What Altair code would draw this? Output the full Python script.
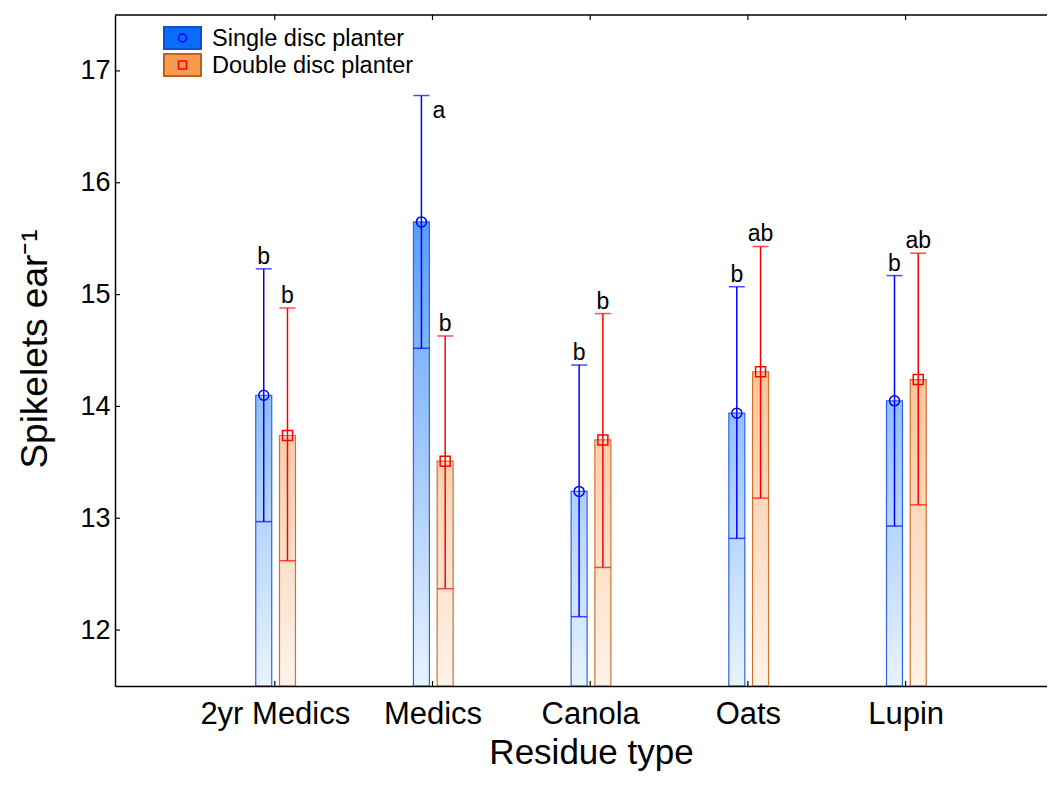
import json
import altair as alt
import pandas as pd

# ---------------- data ----------------
categories = ["2yr Medics", "Medics", "Canola", "Oats", "Lupin"]
series_names = ["Single disc planter", "Double disc planter"]
single_mean = [14.10, 15.65, 13.24, 13.94, 14.05]
single_low = [12.97, 14.52, 12.12, 12.82, 12.93]
single_high = [15.23, 16.78, 14.37, 15.07, 15.17]
double_mean = [13.74, 13.51, 13.70, 14.31, 14.24]
double_low = [12.62, 12.37, 12.56, 13.18, 13.12]
double_high = [14.88, 14.63, 14.83, 15.43, 15.37]
single_letters = ["b", "a", "b", "b", "b"]
double_letters = ["b", "b", "b", "ab", "ab"]
y_ticks = [12, 13, 14, 15, 16, 17]
y_min, y_max = 11.5, 17.5

rows = []
for i, c in enumerate(categories):
    rows.append(dict(cat=c, idx=i + 1, series=series_names[0], mean=single_mean[i],
                     low=single_low[i], high=single_high[i], letter=single_letters[i]))
    rows.append(dict(cat=c, idx=i + 1, series=series_names[1], mean=double_mean[i],
                     low=double_low[i], high=double_high[i], letter=double_letters[i]))
df = pd.DataFrame(rows)

# ---------------- geometry / style ----------------
W, H = 932, 671
STEP = 159.4
x0 = 1 - 156.5 / STEP
xscale = alt.Scale(domain=[x0, x0 + W / STEP], nice=False, zero=False)
yscale = alt.Scale(domain=[y_min, y_max], nice=False, zero=False)
FONT = "Liberation Sans"

label_js = json.dumps(categories)
xaxis = alt.Axis(values=[1, 2, 3, 4, 5], labelExpr=f"{label_js}[datum.value - 1]",
                 ticks=False, tickSize=0, grid=False, domain=True, domainColor="black",
                 domainWidth=1.5, labelFontSize=31, labelColor="black",
                 labelBaseline="alphabetic", labelPadding=37, labelFlush=False,
                 labelOverlap=False, title="Residue type", titleFontSize=35,
                 titleFontWeight="normal", titleColor="black", titleX=476, titleY=77,
                 titleBaseline="alphabetic", titleAlign="center", zindex=1)
yaxis = alt.Axis(values=y_ticks, ticks=False, tickSize=0, grid=False, domain=True,
                 domainColor="black", domainWidth=1.5, labelFontSize=27,
                 labelColor="black", labelPadding=5, labelBaseline="middle",
                 title="Spikelets ear⁻¹", titleFontSize=37, titleFontWeight="normal",
                 titleColor="black", titleX=-69, titleY=H / 2 - 2, titleAngle=270,
                 titleAlign="center", titleBaseline="alphabetic", zindex=1)

S = series_names[0]
is_single = f"datum.series == '{S}'"

base = alt.Chart(df).transform_calculate(
    xpos=f"datum.idx + ({is_single} ? -0.0703 : 0.0803)")
X = alt.X("xpos:Q", scale=xscale, axis=xaxis)

blue_grad = {"gradient": "linear", "x1": 0, "y1": 1, "x2": 0, "y2": 0,
             "stops": [{"offset": 0, "color": "#e8f3ff"},
                       {"offset": 1, "color": "#1a78ff"}]}
orange_grad = {"gradient": "linear", "x1": 0, "y1": 1, "x2": 0, "y2": 0,
               "stops": [{"offset": 0, "color": "#fef3ea"},
                         {"offset": 1, "color": "#f48e3c"}]}

grad_s = base.transform_filter(is_single).mark_bar(size=16, fill=blue_grad).encode(
    x=X, y=alt.YDatum(y_max, scale=yscale, axis=yaxis), y2=alt.datum(y_min))
grad_d = base.transform_filter(f"!({is_single})").mark_bar(size=16, fill=orange_grad).encode(
    x=X, y=alt.YDatum(y_max, scale=yscale, axis=yaxis), y2=alt.datum(y_min))

cover = base.mark_bar(size=18, fill="white").encode(
    x=X, y=alt.Y("mean:Q", scale=yscale, axis=yaxis), y2=alt.datum(y_max))

outline = base.mark_bar(size=16, fillOpacity=0, strokeWidth=1.2).encode(
    x=X, y=alt.Y("mean:Q", scale=yscale, axis=yaxis), y2=alt.datum(y_min),
    stroke=alt.condition(is_single, alt.value("#2f64e6"), alt.value("#d0702e")))

err_color = alt.condition(is_single, alt.value("#0000ff"), alt.value("#ff0000"))
rules = base.mark_rule(strokeWidth=1.5).encode(
    x=X, y=alt.Y("low:Q", scale=yscale, axis=yaxis), y2="high:Q", color=err_color)
caps = base.transform_fold(["low", "high"], as_=["end", "val"]).mark_tick(
    orient="horizontal", size=16, thickness=1.5).encode(
    x=X, y=alt.Y("val:Q", scale=yscale, axis=yaxis), color=err_color)
points = base.mark_point(filled=False, size=100, strokeWidth=1.5, opacity=1).encode(
    x=X, y=alt.Y("mean:Q", scale=yscale, axis=yaxis), color=err_color,
    shape=alt.condition(is_single, alt.value("circle"), alt.value("square")))

exception = f"datum.cat == 'Medics' && {is_single}"
letters = base.transform_filter(f"!({exception})").mark_text(
    fontSize=23, baseline="alphabetic", align="center", dy=-5, color="black").encode(
    x=X, y=alt.Y("high:Q", scale=yscale, axis=yaxis), text="letter:N")
letter_a = base.transform_filter(exception).mark_text(
    fontSize=23, baseline="alphabetic", align="left", dx=11, dy=22, color="black").encode(
    x=X, y=alt.Y("high:Q", scale=yscale, axis=yaxis), text="letter:N")

# inward tick marks
ytick_layer = alt.Chart(pd.DataFrame({"t": y_ticks})).mark_rule(
    color="black", strokeWidth=1.2).encode(
    y=alt.Y("t:Q", scale=yscale, axis=yaxis), x=alt.value(0), x2=alt.value(5))
cat_df = pd.DataFrame({"idx": list(range(1, len(categories) + 1))})
xtick_bottom = alt.Chart(cat_df).mark_rule(color="black", strokeWidth=1.2).encode(
    x=alt.X("idx:Q", scale=xscale, axis=xaxis), y=alt.value(H), y2=alt.value(H - 5))
xtick_top = alt.Chart(cat_df).mark_rule(color="black", strokeWidth=1.2).encode(
    x=alt.X("idx:Q", scale=xscale, axis=xaxis), y=alt.value(0), y2=alt.value(5))
top_line = alt.Chart(pd.DataFrame({"a": [0]})).mark_rule(
    color="black", strokeWidth=1.5).encode(x=alt.value(0), x2=alt.value(W), y=alt.value(0))

# legend (drawn inside the plot, top-left)
swatch_fill = ["#0a6cf8", "#f79b50"]
swatch_stroke = ["#0a50d0", "#c0601a"]
marker_color = ["#0000ff", "#ff0000"]
marker_shape = ["circle", "square"]
legend_layers = []
for r, name in enumerate(series_names):
    ldf = pd.DataFrame({"series": [name]})
    top = 12 + 27 * r
    legend_layers.append(alt.Chart(ldf).mark_rect(
        fill=swatch_fill[r], stroke=swatch_stroke[r], strokeWidth=2).encode(
        x=alt.value(49), x2=alt.value(86), y=alt.value(top), y2=alt.value(top + 22)))
    legend_layers.append(alt.Chart(ldf).mark_point(
        filled=False, size=64, strokeWidth=1.5, color=marker_color[r],
        shape=marker_shape[r], opacity=1).encode(
        x=alt.value(67.5), y=alt.value(top + 11)))
    legend_layers.append(alt.Chart(ldf).mark_text(
        align="left", baseline="middle", fontSize=23.5, color="black").encode(
        x=alt.value(97), y=alt.value(top + 12), text="series:N"))

chart = alt.layer(
    grad_s, grad_d, cover, outline, rules, caps, points, letters, letter_a,
    ytick_layer, xtick_bottom, xtick_top, top_line, *legend_layers
).properties(
    width=W, height=H,
    autosize=alt.AutoSizeParams(type="none"),
    padding={"left": 107, "top": 7, "right": 0, "bottom": 86},
).configure(font=FONT).configure_view(stroke="transparent")

chart.save("out.html", embed_options={"renderer": "svg", "actions": False})
